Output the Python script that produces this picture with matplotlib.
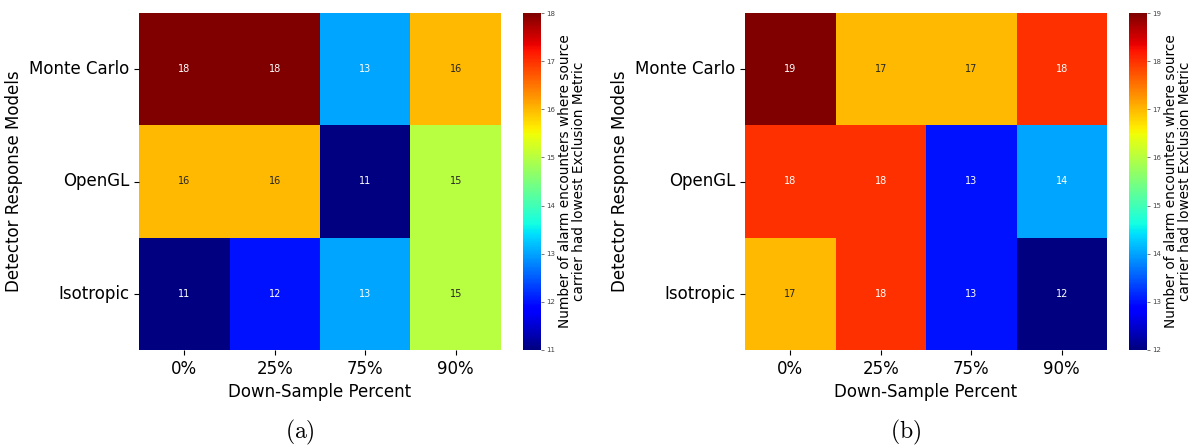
import matplotlib
matplotlib.use("Agg")
import matplotlib.pyplot as plt
import seaborn as sns
import numpy as np

plt.rcParams["mathtext.fontset"] = "cm"

models = ["Monte Carlo", "OpenGL", "Isotropic"]
downsample = ["0%", "25%", "75%", "90%"]

counts_a = [
    [18, 18, 13, 16],
    [16, 16, 11, 15],
    [11, 12, 13, 15],
]
counts_b = [
    [19, 17, 17, 18],
    [18, 18, 13, 14],
    [17, 18, 13, 12],
]

cbar_label = ("Number of alarm encounters where source\n"
              "carrier had lowest Exclusion Metric")

W, H = 1191, 445
fig = plt.figure(figsize=(W / 100, H / 100), dpi=100)


def panel(data, hm_left, cb_left, caption, cap_x):
    top, bottom = 13, 350
    ax = fig.add_axes([hm_left / W, 1 - bottom / H, 362 / W, (bottom - top) / H])
    cax = fig.add_axes([cb_left / W, 1 - bottom / H, 18 / W, (bottom - top) / H])
    arr = np.array(data)
    sns.heatmap(arr, ax=ax, cbar_ax=cax, cmap="jet", annot=True, fmt="d",
                annot_kws={"fontsize": 7},
                vmin=arr.min(), vmax=arr.max(),
                xticklabels=downsample, yticklabels=models)
    ax.tick_params(axis="both", labelsize=12)
    ax.set_yticklabels(models, rotation=0)
    ax.set_xticklabels(downsample, rotation=0)
    ax.set_xlabel("Down-Sample Percent", fontsize=12)
    ax.set_ylabel("Detector Response Models", fontsize=12)
    cax.tick_params(labelsize=5, colors="#444444", length=2, width=0.5, pad=2)
    cax.set_ylabel(cbar_label, fontsize=9.8, linespacing=1.0, labelpad=2)
    fig.text(cap_x / W, 1 - 432 / H, caption, fontsize=17,
             ha="center", va="center")


panel(counts_a, 139, 523, r"$\mathrm{(a)}$", 300)
panel(counts_b, 745, 1129, r"$\mathrm{(b)}$", 906)

fig.savefig("out.png", dpi=100)
